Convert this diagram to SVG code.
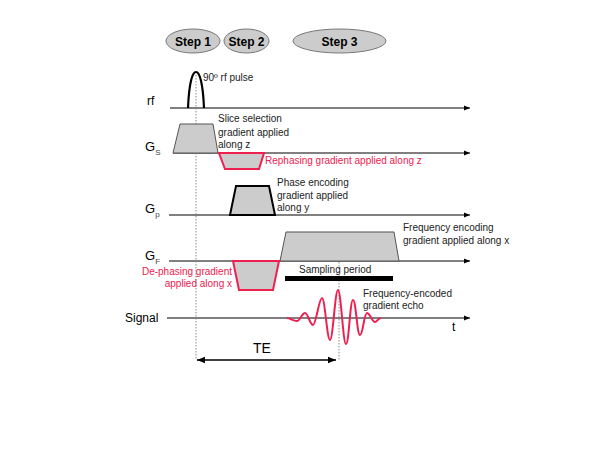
<svg xmlns="http://www.w3.org/2000/svg" width="600" height="450" viewBox="0 0 600 450">
<style>
text{font-family:"Liberation Sans",Arial,sans-serif;fill:#000}
.lbl{font-size:10px;fill:#222}
.red{fill:#ee2050}
.step{font-size:12px;font-weight:bold}
.ax{font-size:12px}
.g{font-size:13px}
.sub{font-size:8px;fill:#444}
.axis{stroke:#000;stroke-width:1;fill:none}
.dash{stroke:#888;stroke-width:1;stroke-dasharray:1.5 1.5;fill:none}
.trap{fill:#cccccc;stroke:#555;stroke-width:1}
.trapb{fill:#cccccc;stroke:#000;stroke-width:2}
.trapr{fill:#cccccc;stroke:#ee2050;stroke-width:2}
.oval{fill:#cccccc;stroke:#777;stroke-width:1}
</style>
<defs>
<marker id="ah" viewBox="0 0 10 10" refX="10" refY="5" markerWidth="6" markerHeight="6" orient="auto-start-reverse" markerUnits="userSpaceOnUse">
<path d="M0,1 L10,5 L0,9 Z" fill="#000"/>
</marker>
<marker id="ta" viewBox="0 0 10 10" refX="10" refY="5" markerWidth="8" markerHeight="8" orient="auto-start-reverse" markerUnits="userSpaceOnUse">
<path d="M0,1 L10,5 L0,9 Z" fill="#000"/>
</marker>
</defs>
<rect width="600" height="450" fill="#fff"/>

<g id="steps">
<g id="step1"><ellipse class="oval" cx="193" cy="41" rx="27" ry="12"/><text class="step" x="193" y="45.5" text-anchor="middle">Step 1</text></g>
<g id="step2"><ellipse class="oval" cx="246.5" cy="41" rx="22.5" ry="12"/><text class="step" x="246.5" y="45.5" text-anchor="middle">Step 2</text></g>
<g id="step3"><ellipse class="oval" cx="339.5" cy="41" rx="46.5" ry="12"/><text class="step" x="339.5" y="45.5" text-anchor="middle">Step 3</text></g>
</g>

<g id="connectors">
<line class="axis" x1="170" y1="108" x2="470" y2="108" marker-end="url(#ah)"/>
<line class="axis" x1="173" y1="153" x2="470" y2="153" marker-end="url(#ah)"/>
<line class="axis" x1="169" y1="215" x2="470" y2="215" marker-end="url(#ah)"/>
<line class="axis" x1="169" y1="261" x2="470" y2="261" marker-end="url(#ah)"/>
<line class="axis" x1="167" y1="318" x2="470" y2="318" marker-end="url(#ah)"/>
<line class="dash" x1="196" y1="75" x2="196" y2="360"/>
<line class="dash" x1="339" y1="232" x2="339" y2="360"/>
<line x1="197" y1="360" x2="336" y2="360" stroke="#000" stroke-width="1.5" marker-start="url(#ta)" marker-end="url(#ta)"/>
</g>

<g id="labels">
<text class="ax" x="147" y="105">rf</text>
<text class="g" x="145" y="151">G<tspan class="sub" dy="4">S</tspan></text>
<text class="g" x="145" y="213">G<tspan class="sub" dy="4">p</tspan></text>
<text class="g" x="145" y="260">G<tspan class="sub" dy="4">F</tspan></text>
<text class="ax" x="125" y="322">Signal</text>
<text class="ax" x="452" y="331">t</text>
<text x="253" y="353" font-size="14">TE</text>
</g>

<g id="rf-pulse">
<path d="M188,108 C189,85 192,72 196,72 C200,72 203,85 204,108" fill="none" stroke="#000" stroke-width="2.2"/>
<text class="lbl" x="203" y="81">90º rf pulse</text>
</g>

<g id="slice">
<polygon class="trap" points="173,153 180,124 213,124 218,153"/>
<text class="lbl"><tspan x="218" y="122">Slice selection</tspan><tspan x="218" y="136">gradient applied</tspan><tspan x="218" y="148">along z</tspan></text>
</g>

<g id="rephase">
<polygon class="trapr" points="219,153 264,153 259,169 225,169"/>
<text class="lbl red" x="265" y="164">Rephasing gradient applied along z</text>
</g>

<g id="phase">
<polygon class="trapb" points="230,215 236,186 269,186 275,215"/>
<text class="lbl"><tspan x="277" y="186">Phase encoding</tspan><tspan x="277" y="199">gradient applied</tspan><tspan x="277" y="211">along y</tspan></text>
</g>

<g id="freq">
<polygon class="trap" points="280,261 286,232 394,232 399,261"/>
<text class="lbl"><tspan x="403" y="231">Frequency encoding</tspan><tspan x="403" y="244">gradient applied along x</tspan></text>
</g>

<g id="dephase">
<polygon class="trapr" points="233,261 279,261 273,290 239,290"/>
<text class="lbl red" text-anchor="end"><tspan x="232" y="275">De-phasing gradient</tspan><tspan x="232" y="287">applied along x</tspan></text>
</g>

<g id="sampling">
<rect x="285" y="276" width="108" height="5" fill="#000"/>
<text class="lbl" x="299" y="273">Sampling period</text>
</g>

<g id="signal">
<path d="M287,318 C290,318 293,321 297,321 C300,321 302,313 305,313 C308,313 310,325 313,325 C316,325 319,298 322,298 C325,298 327,340 330,340 C333,340 335,290 338,290 C341,290 343,344 346,344 C349,344 350,300 353,300 C356,300 357,335 360,335 C363,335 364,313 367,313 C370,313 372,322 375,322 C377,322 378,318 381,318" fill="none" stroke="#ee2050" stroke-width="2"/>
<text class="lbl"><tspan x="363" y="297">Frequency-encoded</tspan><tspan x="363" y="309">gradient echo</tspan></text>
</g>
</svg>
